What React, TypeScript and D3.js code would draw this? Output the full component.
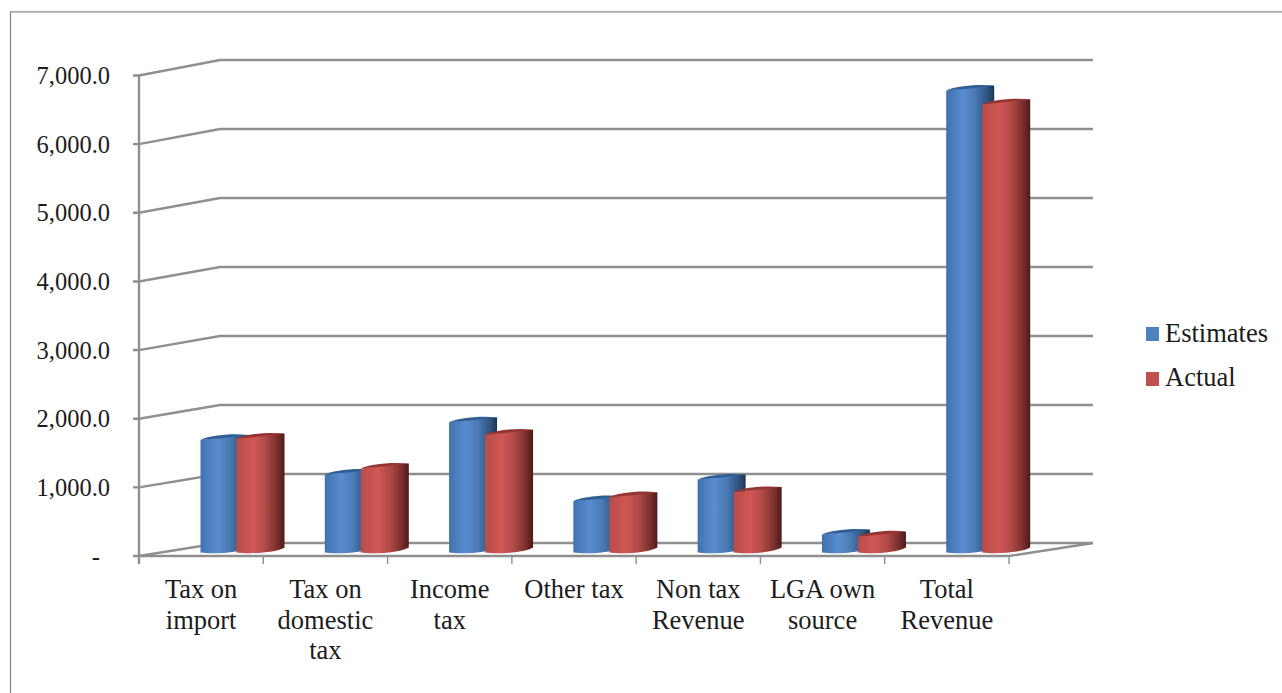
import React from "react";
import * as d3 from "d3";

const categories = [
  ["Tax on", "import"],
  ["Tax on", "domestic", "tax"],
  ["Income", "tax"],
  ["Other tax"],
  ["Non tax", "Revenue"],
  ["LGA own", "source"],
  ["Total", "Revenue"],
];
const estimates = [1640, 1135, 1897, 747, 1062, 262, 6730];
const actual = [1660, 1222, 1717, 805, 880, 233, 6530];
const yTicks = [0, 1000, 2000, 3000, 4000, 5000, 6000, 7000];
const seriesNames = ["Estimates", "Actual"];

const FONT = "'Liberation Serif', serif";
const GRID = "#8f8f8f";

export default function App() {
  const y = d3.scaleLinear().domain([0, 7000]).range([556, 75.5]);
  const yBack = d3.scaleLinear().domain([0, 7000]).range([543, 60]);
  const x = d3.scaleBand().domain(categories.map((_, i) => String(i))).range([139, 1009]);
  const backL = 220, backR = 1093;
  const fmt = d3.format(",.1f");
  const cyl = (x0: number, v: number) => {
    const w = 48, rise = 5, t = y(v) - 3.5, b = 552.5;
    return {
      body: `M${x0},${t} L${x0},${b} C${x0 + 14},${b + 2} ${x0 + 40},${b} ${x0 + w},${b - rise} L${x0 + w},${t - rise} C${x0 + 30},${t - rise} ${x0 + 12},${t - 1} ${x0},${t} Z`,
      top: `M${x0},${t} C${x0 + 6},${t - 4} ${x0 + 30},${t - 7} ${x0 + w},${t - rise} C${x0 + 34},${t - 3} ${x0 + 14},${t - 1} ${x0},${t} Z`,
    };
  };
  return (
    <svg width={1282} height={693} style={{ position: "absolute", left: 0, top: 0, background: "#fff" }}>
      <defs>
        <linearGradient id="gb" x1="0" x2="1" y1="0" y2="0">
          <stop offset="0" stopColor="#3f72ad" />
          <stop offset="0.35" stopColor="#5a8dcf" />
          <stop offset="0.6" stopColor="#4a7ab5" />
          <stop offset="0.85" stopColor="#2f5480" />
          <stop offset="1" stopColor="#1d3654" />
        </linearGradient>
        <linearGradient id="gr" x1="0" x2="1" y1="0" y2="0">
          <stop offset="0" stopColor="#b84c4a" />
          <stop offset="0.35" stopColor="#d15755" />
          <stop offset="0.6" stopColor="#b04a48" />
          <stop offset="0.85" stopColor="#7a2f2d" />
          <stop offset="1" stopColor="#4a1a19" />
        </linearGradient>
      </defs>
      <path d="M10.5,693 V11.8 H1282" fill="none" stroke="#8a8a8a" strokeWidth={1.3} />
      {yTicks.map((t) => (
        <g key={t}>
          <path
            d={`M133,${y(t)} H139 L${backL},${yBack(t)} H${backR}`}
            fill="none"
            stroke={GRID}
            strokeWidth={2.4}
          />
          <text
            x={t === 0 ? 100 : 110}
            y={y(t) + 8.5}
            textAnchor="end"
            fontFamily={FONT}
            fontSize={24.5}
            fill="#1c1c1c"
          >
            {t === 0 ? "-" : fmt(t)}
          </text>
        </g>
      ))}
      <path d={`M139,${y(7000)} V564`} stroke={GRID} strokeWidth={2.4} fill="none" />
      <path d={`M139,556 H1009 L${backR},${yBack(0)}`} stroke={GRID} strokeWidth={2.4} fill="none" />
      {categories.map((c, i) => {
        const b0 = x(String(i))!;
        const xc = b0 + x.bandwidth() / 2;
        return (
          <g key={i}>
            <line x1={b0 + x.bandwidth()} x2={b0 + x.bandwidth()} y1={556} y2={564} stroke={GRID} strokeWidth={1.4} />
            {c.map((line, j) => (
              <text key={j} x={xc} y={598 + j * 30.5} textAnchor="middle" fontFamily={FONT} fontSize={26.5} fill="#1c1c1c">
                {line}
              </text>
            ))}
          </g>
        );
      })}
      {categories.map((_, i) => {
        const b0 = x(String(i))!;
        const a = cyl(b0 + 61.5, estimates[i]);
        const d = cyl(b0 + 97.5, actual[i]);
        return (
          <g key={i}>
            <path d={a.body} fill="url(#gb)" />
            <path d={a.top} fill="#2f5f95" />
            <path d={d.body} fill="url(#gr)" />
            <path d={d.top} fill="#953533" />
          </g>
        );
      })}
      {seriesNames.map((n, i) => (
        <g key={n}>
          <rect x={1146} y={327 + i * 45} width={13} height={14} fill={i === 0 ? "#4f81bd" : "#c0504d"} />
          <text x={1165} y={342 + i * 44} fontFamily={FONT} fontSize={26.5} fill="#1c1c1c">
            {n}
          </text>
        </g>
      ))}
    </svg>
  );
}
